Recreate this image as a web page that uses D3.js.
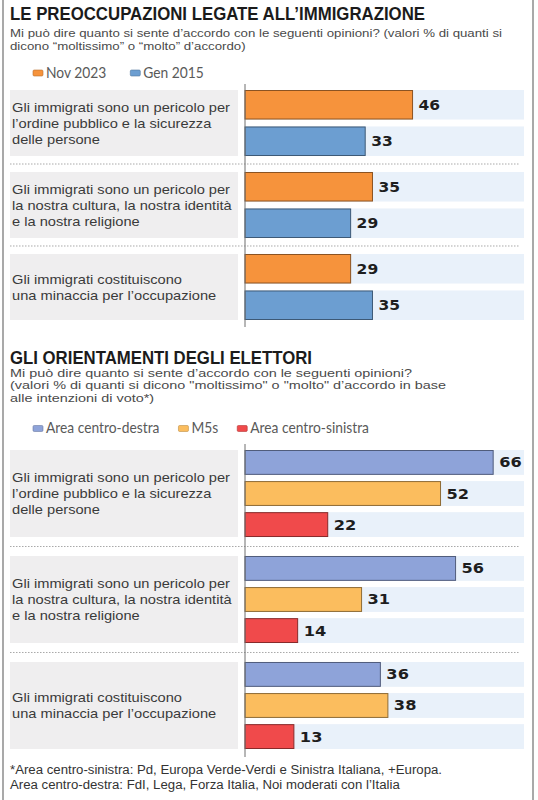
<!DOCTYPE html>
<html>
<head>
<meta charset="utf-8">
<script src="https://cdn.jsdelivr.net/npm/d3@7"></script>
<style>
  html, body { margin: 0; padding: 0; background: #ffffff; }
  svg { display: block; }
</style>
</head>
<body>
<script>
// ---------------- DATA ----------------
const questions = [
  ["Gli immigrati sono un pericolo per", "l’ordine pubblico e la sicurezza", "delle persone"],
  ["Gli immigrati sono un pericolo per", "la nostra cultura, la nostra identità", "e la nostra religione"],
  ["Gli immigrati costituiscono", "una minaccia per l’occupazione"]
];
const periods = ["Nov 2023", "Gen 2015"];
const nov2023 = [46, 35, 29];
const gen2015 = [33, 29, 35];

const voterAreas = ["Area centro-destra", "M5s", "Area centro-sinistra"];
const centroDestra = [66, 56, 36];
const m5s = [52, 31, 38];
const centroSinistra = [22, 14, 13];

const title1 = "LE PREOCCUPAZIONI LEGATE ALL’IMMIGRAZIONE";
const subtitle1 = [
  "Mi può dire quanto si sente d’accordo con le seguenti opinioni? (valori % di quanti si",
  "dicono “moltissimo” o “molto” d’accordo)"
];
const title2 = "GLI ORIENTAMENTI DEGLI ELETTORI";
const subtitle2 = [
  "Mi può dire quanto si sente d’accordo con le seguenti opinioni?",
  "(valori % di quanti si dicono \"moltissimo\" o \"molto\" d’accordo in base",
  "alle intenzioni di voto*)"
];
const footnote = [
  "*Area centro-sinistra: Pd, Europa Verde-Verdi e Sinistra Italiana, +Europa.",
  "Area centro-destra: FdI, Lega, Forza Italia, Noi moderati con l’Italia"
];

// ---------------- STYLE ----------------
const W = 538, H = 800;
const colors1 = ["#f6933c", "#6c9ed1"];
const colors2 = ["#8ea3d9", "#fbbd5e", "#f04a4b"];
const stripeColor = "#e9f1fa";
const labelBg = "#efeeef";
const FONT = "'Liberation Sans', Arial, sans-serif";
const NUMFONT = "'DejaVu Sans', sans-serif";

const svg = d3.select("body").append("svg").attr("width", W).attr("height", H);

// frame lines
svg.append("line").attr("x1", 3).attr("x2", 3).attr("y1", 0).attr("y2", H)
  .attr("stroke", "#8c8c8c").attr("stroke-width", 1.5);
svg.append("line").attr("x1", 533).attr("x2", 533).attr("y1", 0).attr("y2", H)
  .attr("stroke", "#8c8c8c").attr("stroke-width", 1.5);

function squeezeTo(sel, width) {
  sel.attr("textLength", width).attr("lengthAdjust", "spacingAndGlyphs");
}
function squeezeBy(sel, k) {
  sel.each(function () {
    const w = this.getComputedTextLength();
    d3.select(this).attr("textLength", (w * k).toFixed(2)).attr("lengthAdjust", "spacingAndGlyphs");
  });
}
function natural(sel) { return sel.node().getComputedTextLength(); }

// ---------------- PANEL ----------------
function drawPanel(o) {
  const g = svg.append("g");

  // title
  const t = g.append("text").attr("x", 10).attr("y", o.titleY)
    .attr("font-family", FONT).attr("font-weight", 700).attr("font-size", 17.5)
    .attr("fill", "#1b1b1b").text(o.title);
  squeezeTo(t, o.titleW);

  // subtitle
  const subs = g.selectAll("text.sub").data(o.sub).join("text").attr("class", "sub")
    .attr("x", 10).attr("y", (d, i) => o.subY + i * o.subLH)
    .attr("font-family", FONT).attr("font-size", o.subSize).attr("fill", "#4a4a4a")
    .text(d => d);
  const kSub = o.subRefW / subs.filter((d, i) => i === o.subRefIdx).node().getComputedTextLength();
  squeezeBy(subs, kSub);

  // legend
  let lx = 33;
  o.series.forEach((name, i) => {
    g.append("rect").attr("x", lx).attr("y", o.legendY - 7.5).attr("width", 10).attr("height", 6)
      .attr("rx", 1.2).attr("fill", o.colors[i]).attr("stroke", d3.color(o.colors[i]).darker(0.8)).attr("stroke-width", 0.6);
    const lt = g.append("text").attr("x", lx + 13).attr("y", o.legendY)
      .attr("font-family", "Lato, 'Open Sans', sans-serif").attr("font-size", 15).attr("fill", "#5a5a5a")
      .text(name);
    const w = natural(lt) * o.legendK;
    squeezeTo(lt, w);
    lx = lx + 13 + w + o.legendGap;
  });

  // scales
  const x = d3.scaleLinear().domain([0, o.xMax]).range([245, 524]);
  const yG = d3.scaleBand().domain(d3.range(o.questions.length)).range(o.groupRange)
    .paddingInner(o.groupPad).paddingOuter(0);
  const yS = d3.scaleBand().domain(d3.range(o.series.length)).range([0, yG.bandwidth()])
    .paddingInner(o.innerPad).paddingOuter(0);

  // separators
  for (let i = 1; i < o.questions.length; i++) {
    const yy = (yG(i - 1) + yG.bandwidth() + yG(i)) / 2;
    g.append("line").attr("x1", 10).attr("x2", 520).attr("y1", yy).attr("y2", yy)
      .attr("stroke", "#a9a9a9").attr("stroke-width", 1).attr("stroke-dasharray", "1.5,1.5");
  }

  const groups = g.selectAll("g.grp").data(o.questions).join("g").attr("class", "grp")
    .attr("transform", (d, i) => `translate(0,${yG(i)})`);

  // label background
  groups.append("rect").attr("x", 10).attr("y", 0).attr("width", 228).attr("height", yG.bandwidth())
    .attr("fill", labelBg);

  // label text
  const lh = 16;
  const labelTexts = groups.selectAll("text.lbl").data(d => d.map((line, j) => ({ line, j, n: d.length })))
    .join("text").attr("class", "lbl")
    .attr("x", 12)
    .attr("y", d => yG.bandwidth() / 2 + 4.7 + (d.j - (d.n - 1) / 2) * lh)
    .attr("font-family", FONT).attr("font-size", 13.5).attr("fill", "#3a3a3a")
    .text(d => d.line);
  const refLbl = labelTexts.filter(d => d.line === "Gli immigrati sono un pericolo per");
  const kLbl = 218 / refLbl.node().getComputedTextLength();
  squeezeBy(labelTexts, kLbl);

  // bars
  groups.each(function (q, qi) {
    const gg = d3.select(this);
    const rows = o.values.map((vals, si) => ({ si, v: vals[qi] }));
    gg.selectAll("rect.stripe").data(rows).join("rect").attr("class", "stripe")
      .attr("x", x(0)).attr("y", d => yS(d.si)).attr("width", x(o.xMax) - x(0)).attr("height", yS.bandwidth())
      .attr("fill", stripeColor);
    gg.selectAll("rect.bar").data(rows).join("rect").attr("class", "bar")
      .attr("x", x(0)).attr("y", d => yS(d.si) + 0.5).attr("width", d => x(d.v) - x(0))
      .attr("height", yS.bandwidth() - 1)
      .attr("fill", d => o.colors[d.si])
      .attr("stroke", d => d3.color(o.colors[d.si]).darker(1.6)).attr("stroke-width", 1);
    const vt = gg.selectAll("text.val").data(rows).join("text").attr("class", "val")
      .attr("x", d => x(d.v) + 6).attr("y", d => yS(d.si) + yS.bandwidth() / 2)
      .attr("dy", "0.37em")
      .attr("font-family", NUMFONT).attr("font-weight", 700).attr("font-size", 13.5)
      .attr("fill", "#1e1e1e").text(d => d.v);
    squeezeBy(vt, o.numK);
  });

  // axis line
  g.append("line").attr("x1", x(0)).attr("x2", x(0)).attr("y1", o.axisTop).attr("y2", o.axisBottom)
    .attr("stroke", "#6e6e6e").attr("stroke-width", 1);
}

drawPanel({
  title: title1, titleY: 20, titleW: 415,
  sub: subtitle1, subY: 37, subLH: 13, subSize: 11.5, subRefIdx: 0, subRefW: 492,
  series: periods, colors: colors1, legendY: 77.5, legendK: 0.92, legendGap: 24,
  questions: questions, values: [nov2023, gen2015],
  xMax: 76.6, groupRange: [90, 320], groupPad: 0.195, innerPad: 0.19,
  axisTop: 84, axisBottom: 327, numK: 1.15
});

drawPanel({
  title: title2, titleY: 363.5, titleW: 302,
  sub: subtitle2, subY: 377, subLH: 12.4, subSize: 11, subRefIdx: 1, subRefW: 436,
  series: voterAreas, colors: colors2, legendY: 433, legendK: 0.92, legendGap: 19,
  questions: questions, values: [centroDestra, m5s, centroSinistra],
  xMax: 74.2, groupRange: [450, 749], groupPad: 0.179, innerPad: 0.2,
  axisTop: 444, axisBottom: 757, numK: 1.2
});

// footnote
const fn = svg.selectAll("text.fn").data(footnote).join("text").attr("class", "fn")
  .attr("x", 10).attr("y", (d, i) => 774 + i * 14.5)
  .attr("font-family", FONT).attr("font-size", 12).attr("fill", "#333333")
  .text(d => d);
const kFn = 432 / fn.node().getComputedTextLength();
squeezeBy(fn, kFn);
</script>
</body>
</html>
